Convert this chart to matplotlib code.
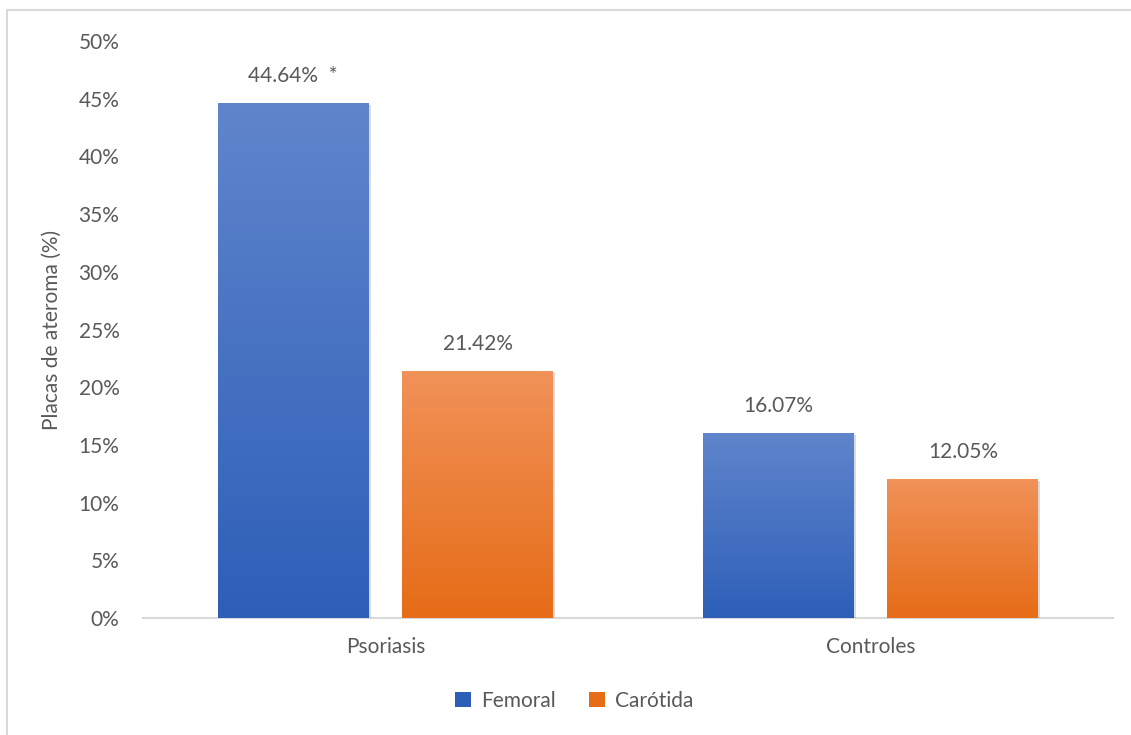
import numpy as np
import matplotlib
matplotlib.use("Agg")
from matplotlib import pyplot as plt
from matplotlib.colors import LinearSegmentedColormap
from matplotlib.patches import Rectangle, Patch
import matplotlib.patheffects as pe

categories = ["Psoriasis", "Controles"]
series_names = ["Femoral", "Carótida"]
femoral = [44.64, 16.07]
carotida = [21.42, 12.05]
labels_femoral = ["44.64%  *", "16.07%"]
labels_carotida = ["21.42%", "12.05%"]
yticks = [0, 5, 10, 15, 20, 25, 30, 35, 40, 45, 50]

_TEXT = "#595959"
_GRID = "#D9D9D9"
_BLUE = ("#2D5FB8", "#6085CC")    # bottom, top
_ORANGE = ("#E66C17", "#F19259")
_FS = 15

plt.rcParams['font.family'] = ['Lato', 'DejaVu Sans']

fig = plt.figure(figsize=(11.31, 7.35), dpi=100)
ax = fig.add_axes([143 / 1131, 1 - 618 / 735, (1113 - 143) / 1131, (618 - 41) / 735])

# light frame of the chart area (only left/top edges visible in reference)
fig.patches.append(Rectangle((7 / 1131, -0.2), 1.5, 1 - 10 / 735 + 0.2,
                             transform=fig.transFigure, fill=False,
                             edgecolor=_GRID, lw=1.5))

x = np.arange(len(categories))
w = 0.311
off = (w + 0.07) / 2

ax.set_xlim(-0.5, 1.5)
ax.set_ylim(0, 50)

grad = np.linspace(0, 1, 256).reshape(-1, 1)
for vals, labs, (c0, c1), dx in [(femoral, labels_femoral, _BLUE, -off),
                                 (carotida, labels_carotida, _ORANGE, off)]:
    bars = ax.bar(x + dx, vals, w, color=c0, zorder=2,
                  path_effects=[pe.SimplePatchShadow(offset=(1.5, -1.5), shadow_rgbFace="#888888", alpha=0.3),
                                pe.Normal()])
    cmap = LinearSegmentedColormap.from_list("g", [c0, c1])
    for b, lab in zip(bars, labs):
        bx, by = b.get_x(), b.get_height()
        im = ax.imshow(grad, extent=[bx, bx + b.get_width(), 0, by], origin="lower",
                       aspect="auto", cmap=cmap, zorder=3)
        im.set_clip_path(b)
        ax.annotate(lab, (bx + b.get_width() / 2, by), xytext=(0, 12),
                    textcoords="offset points", ha="center", va="bottom",
                    fontsize=_FS, color=_TEXT)

ax.set_xlim(-0.5, 1.5)
ax.set_ylim(0, 50)
ax.set_yticks(yticks)
ax.set_yticklabels([f"{t}%" for t in yticks])
ax.set_xticks(x)
ax.set_xticklabels(categories)
ax.tick_params(length=0, labelsize=_FS, labelcolor=_TEXT)
ax.tick_params(axis="y", pad=17)
ax.tick_params(axis="x", pad=14)
for s in ["top", "right", "left"]:
    ax.spines[s].set_visible(False)
ax.spines["bottom"].set_color(_GRID)
ax.spines["bottom"].set_linewidth(1.5)
ax.spines["bottom"].set_zorder(1)
ax.set_ylabel("Placas de ateroma (%)", fontsize=_FS, color=_TEXT, labelpad=12)

handles = [Patch(facecolor=_BLUE[0], edgecolor="none"),
           Patch(facecolor=_ORANGE[0], edgecolor="none")]
fig.legend(handles, series_names, loc="center", bbox_to_anchor=(0.508, 1 - 701 / 735),
           ncol=2, frameon=False, fontsize=_FS, labelcolor=_TEXT,
           handlelength=0.75, handleheight=0.75, handletextpad=0.5, columnspacing=1.6)

fig.savefig("out.png", dpi=100)
